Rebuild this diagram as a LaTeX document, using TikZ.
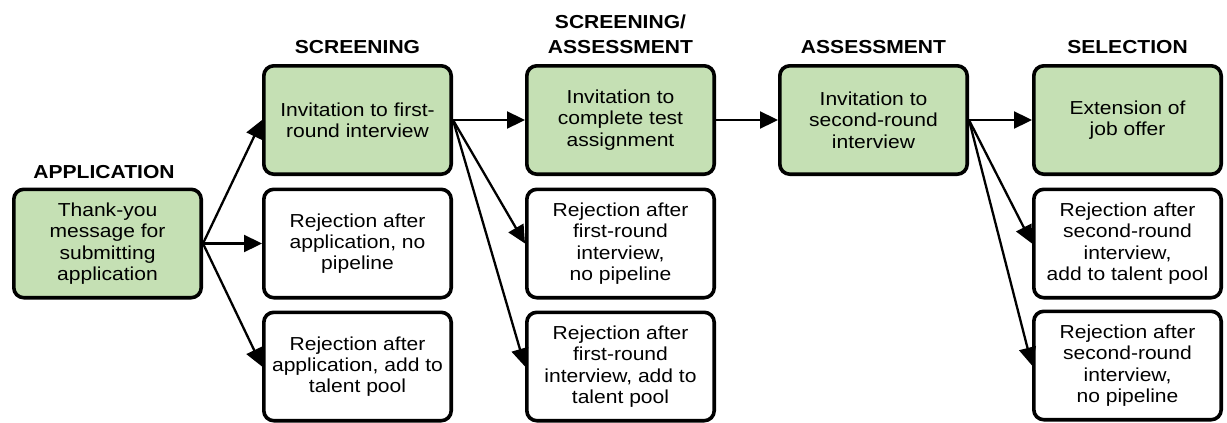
\documentclass[tikz,border=0pt]{standalone}
\usepackage{fontspec}
\setmainfont{Liberation Sans}[FakeStretch=1.12]
\usetikzlibrary{arrows.meta}
\definecolor{stepgreen}{RGB}{197,224,180}
\tikzset{
  x=1pt, y=1pt,
  box/.style={draw=black, line width=3.6pt, rounded corners=10pt,
    minimum width=187.4pt, minimum height=108.4pt, inner sep=2pt,
    align=center, font=\fontsize{18.8}{21.3}\selectfont},
  greenbox/.style={box, fill=stepgreen},
  whitebox/.style={box, fill=white},
  phase/.style={anchor=south, inner sep=0pt, align=center,
    font=\fontsize{18.8}{25}\selectfont\bfseries},
  flow/.style={line width=2.3pt, -{Triangle[length=18pt, width=17pt]}},
}
\begin{document}
\begin{tikzpicture}
\useasboundingbox (0,0) rectangle (1227,-423);

% boxes
\node[greenbox] (app) at (107.5,-243.5) {Thank-you\\message for\\submitting\\application};

\node[greenbox] (inv1) at (357.5,-120) {Invitation to first-\\round interview};
\node[whitebox] (rejA1) at (357.5,-243.5) {Rejection after\\application, no\\pipeline};
\node[whitebox] (rejA2) at (357.5,-366.5) {Rejection after\\application, add to\\talent pool};

\node[greenbox] (test) at (620.5,-120) {Invitation to\\complete test\\assignment};
\node[whitebox] (rejB1) at (620.5,-243.5) {Rejection after\\first-round\\interview,\\no pipeline};
\node[whitebox] (rejB2) at (620.5,-366.5) {Rejection after\\first-round\\interview, add to\\talent pool};

\node[greenbox] (inv2) at (873.5,-120) {Invitation to\\second-round\\interview};

\node[greenbox] (offer) at (1127.5,-120) {Extension of\\job offer};
\node[whitebox] (rejC1) at (1127.5,-243.5) {Rejection after\\second-round\\interview,\\add to talent pool};
\node[whitebox] (rejC2) at (1127.5,-365.5) {Rejection after\\second-round\\interview,\\no pipeline};

% phase headings
\node[phase] (hApp) at (104,-179) {APPLICATION};
\node[phase] (hScr) at (357.5,-54) {SCREENING};
\node[phase] (hScrAss) at (620.5,-54) {SCREENING/\\ASSESSMENT};
\node[phase] (hAss) at (873.5,-54) {ASSESSMENT};
\node[phase] (hSel) at (1127.5,-54) {SELECTION};

% connectors
\draw[flow] (app.east) -- (inv1.west);
\draw[flow] (app.east) -- (rejA1.west);
\draw[flow] (app.east) -- (rejA2.west);

\draw[flow] (inv1.east) -- (test.west);
\draw[flow] (inv1.east) -- (rejB1.west);
\draw[flow] (inv1.east) -- (rejB2.west);

\draw[flow] (test.east) -- (inv2.west);

\draw[flow] (inv2.east) -- (offer.west);
\draw[flow] (inv2.east) -- (rejC1.west);
\draw[flow] (inv2.east) -- (rejC2.west);
\end{tikzpicture}
\end{document}
